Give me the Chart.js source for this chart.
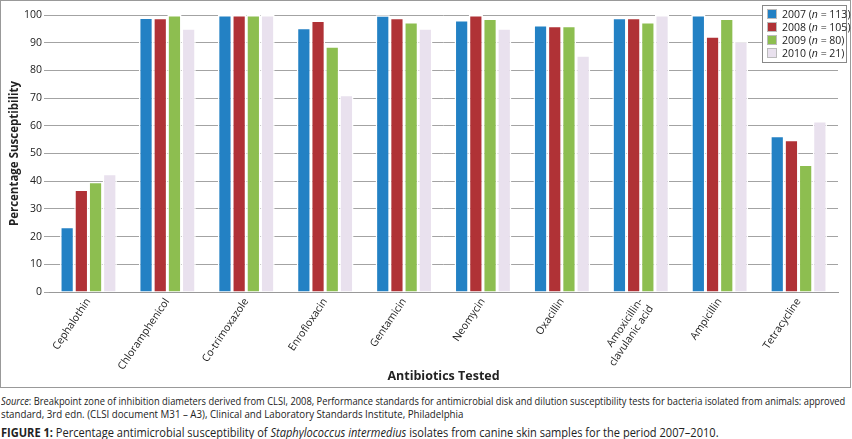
<!DOCTYPE html>
<html>
<head>
<meta charset="utf-8">
<script src="https://cdn.jsdelivr.net/npm/chart.js@4.4.0/dist/chart.umd.min.js"></script>
<style>
  body { margin: 0; background: #fff; font-family: "Open Sans", sans-serif; }
  #box { position: absolute; left: 0; top: 0; width: 849px; height: 386px; border: 1px solid #999; }
  #wrap { position: absolute; left: 0; top: 0; width: 852px; height: 388px; }
  #legend { position: absolute; left: 762px; top: 5px; width: 83px; height: 54px; border: 1px solid #888; background: #fff;
            font-size: 10.5px; color: #222; padding-top: 2px; }
  #legend div { height: 13px; line-height: 13px; white-space: nowrap; }
  #legend span.sw { display: inline-block; width: 8px; height: 8px; margin: 0 5px 0 4px; vertical-align: -1px; border: 1px solid #bbb; }
  .cap { position: absolute; left: 1px; color: #222; white-space: nowrap; transform-origin: 0 0; }
</style>
</head>
<body>
<div id="box"></div>
<div id="wrap"><canvas id="chart1"></canvas></div>
<div id="legend"></div>
<div class="cap" style="top:394px;font-size:11.3px;line-height:13px;transform:scaleX(0.825);"><i>Source</i>: Breakpoint zone of inhibition diameters derived from CLSI, 2008, Performance standards for antimicrobial disk and dilution susceptibility tests for bacteria isolated from animals: approved</div>
<div class="cap" style="top:407px;font-size:11.3px;line-height:13px;transform:scaleX(0.86);">standard, 3rd edn. (CLSI document M31 – A3), Clinical and Laboratory Standards Institute, Philadelphia</div>
<div class="cap" style="top:424px;font-size:12.3px;transform:scaleX(0.9);"><b>FIGURE 1:</b> Percentage antimicrobial susceptibility of <i>Staphylococcus intermedius</i> isolates from canine skin samples for the period 2007–2010.</div>
<script>
const antibiotics = ['Cephalothin', 'Chloramphenicol', 'Co-trimoxazole', 'Enrofloxacin', 'Gentamicin', 'Neomycin', 'Oxacillin',
    ['Amoxicillin-', 'clavulanic acid'], 'Ampicillin', 'Tetracycline'];
const years = ['2007', '2008', '2009', '2010'];
const sampleSizes = [113, 105, 80, 21];
const y2007 = [23.6, 99.1, 100, 95.4, 99.9, 98.2, 96.4, 99, 100, 56.4];
const y2008 = [37, 99, 100, 98, 99, 100, 96.1, 99, 92.3, 55];
const y2009 = [39.8, 100, 100, 88.7, 97.5, 98.7, 96.1, 97.5, 98.7, 46];
const y2010 = [42.7, 95.2, 100, 71.2, 95.2, 95.2, 85.5, 100, 90.5, 61.7];
const yTicks = [0, 10, 20, 30, 40, 50, 60, 70, 80, 90, 100];

const colors = ['#2381C4', '#B03236', '#8DBE50', '#E9E1EE'];
const series = [y2007, y2008, y2009, y2010];

// legend as plain html
const legend = document.getElementById('legend');
years.forEach((y, i) => {
    legend.innerHTML += '<div><span class="sw" style="background:' + colors[i] + '"></span>' + y +
        ' (<i>n</i> = ' + sampleSizes[i] + ')</div>';
});

const canvas = document.getElementById('chart1');
canvas.width = 852; canvas.height = 388;
const ctx = canvas.getContext('2d');

new Chart(ctx, {
    type: 'bar',
    data: {
        labels: antibiotics,
        datasets: series.map((d, i) => ({
            label: years[i],
            data: d,
            backgroundColor: colors[i],
            borderColor: '#ffffff',
            borderWidth: 1.5,
            borderSkipped: 'bottom',
            categoryPercentage: 0.72,
            barPercentage: 1
        }))
    },
    options: {
        responsive: false,
        animation: false,
        layout: { padding: { left: 0, right: 14, top: 15, bottom: 4 } },
        plugins: { legend: { display: false }, tooltip: { enabled: false } },
        scales: {
            x: {
                grid: { display: false, drawTicks: false },
                border: { color: '#999', width: 1 },
                ticks: {
                    color: '#222', font: { family: 'Open Sans', size: 10.5 },
                    minRotation: 56, maxRotation: 56, padding: 4, autoSkip: false
                },
                title: { display: true, text: 'Antibiotics Tested', color: '#222',
                         font: { family: 'Open Sans', size: 12.5, weight: 'bold' }, padding: { top: 0, bottom: 0 } },
                afterFit: s => { s.height = 92; }
            },
            y: {
                min: 0, max: 100,
                afterBuildTicks: s => { s.ticks = yTicks.map(v => ({ value: v })); },
                grid: { color: '#A3A3A3', lineWidth: 1, tickLength: 5 },
                border: { display: false },
                ticks: { color: '#222', font: { family: 'Open Sans', size: 10.5 }, padding: 2 },
                title: { display: true, text: 'Percentage Susceptibility', color: '#222',
                         font: { family: 'Open Sans', size: 11.5, weight: 'bold' }, padding: { top: 8, bottom: 0 } },
                afterFit: s => { s.width = 49; }
            }
        }
    }
});
</script>
</body>
</html>
